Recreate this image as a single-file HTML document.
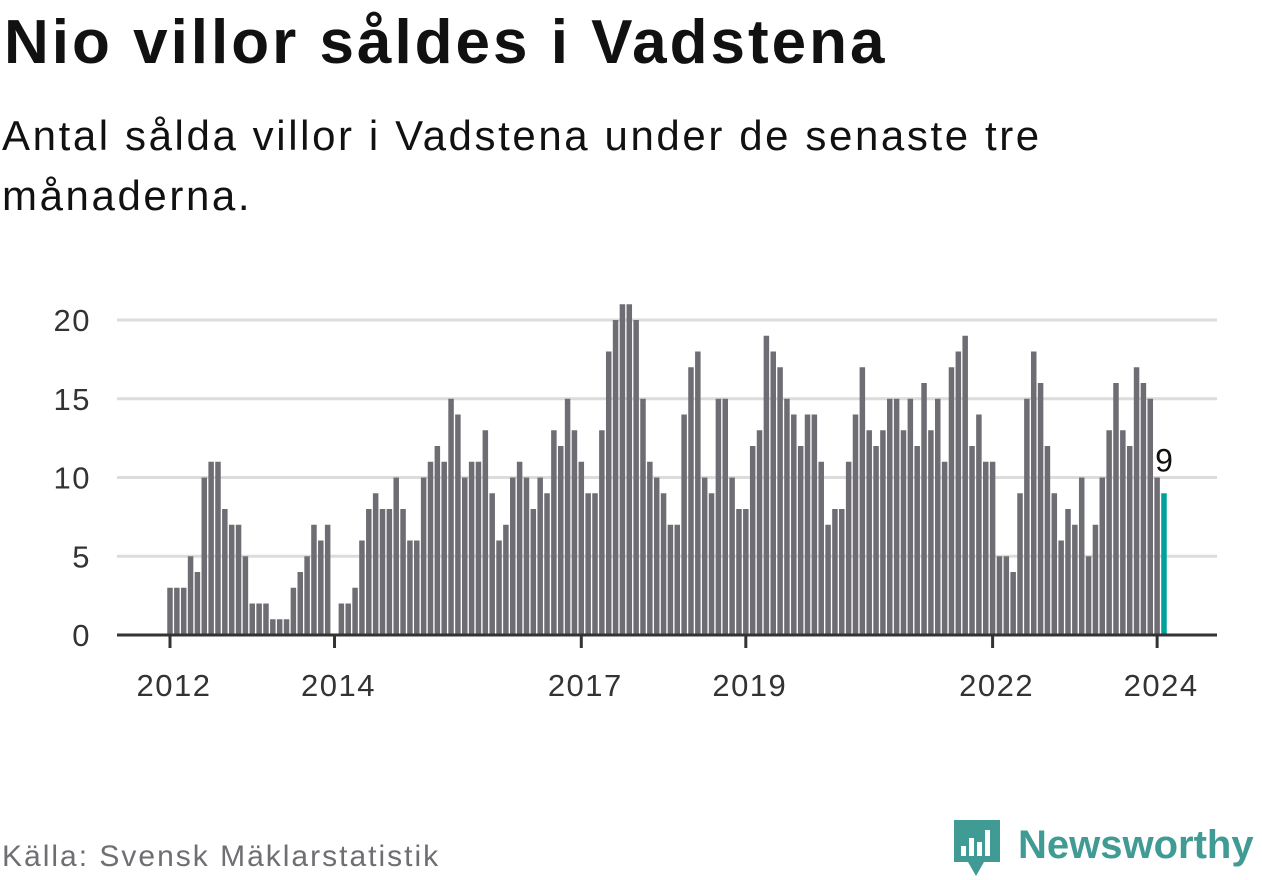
<!DOCTYPE html>
<html><head><meta charset="utf-8"><style>
body{margin:0;width:1262px;height:879px;background:#fff;overflow:hidden;font-family:"Liberation Sans",sans-serif;position:relative}
#title{position:absolute;left:4px;top:12px;font-size:62px;line-height:62px;letter-spacing:3px;font-weight:bold;color:#111;margin:0;white-space:nowrap}
#sub{position:absolute;left:2px;top:106px;font-size:42px;letter-spacing:2.6px;color:#111;line-height:60px;width:1080px;margin:0}
#src{position:absolute;left:2px;top:840px;font-size:30px;letter-spacing:2px;color:#6e6e73}
#logo{position:absolute;left:952px;top:818px}
</style></head><body>
<h1 id="title">Nio villor såldes i Vadstena</h1>
<p id="sub">Antal sålda villor i Vadstena under de senaste tre månaderna.</p>
<svg id="chart" width="1262" height="879" style="position:absolute;left:0;top:0"></svg>
<div id="src">Källa: Svensk Mäklarstatistik</div>
<svg id="logo" width="310" height="62">
<path d="M2 2h46v42h-16l-8 14-8-14H2z" fill="#3f9b93"/>
<rect x="9" y="28" width="5" height="10" fill="#fff"/><rect x="17" y="20" width="5" height="18" fill="#fff"/><rect x="25" y="24" width="5" height="14" fill="#fff"/><rect x="33" y="12" width="5" height="26" fill="#fff"/>
<text x="66" y="40" font-size="40" font-weight="bold" fill="#3f9b93" font-family="Liberation Sans, sans-serif">Newsworthy</text>
</svg>
<script>
const values = [3,3,3,5,4,10,11,11,8,7,7,5,
2,2,2,1,1,1,3,4,5,7,6,7,
0,2,2,3,6,8,9,8,8,10,8,6,
6,10,11,12,11,15,14,10,11,11,13,9,
6,7,10,11,10,8,10,9,13,12,15,13,
11,9,9,13,18,20,21,21,20,15,11,10,
9,7,7,14,17,18,10,9,15,15,10,8,
8,12,13,19,18,17,15,14,12,14,14,11,
7,8,8,11,14,17,13,12,13,15,15,13,
15,12,16,13,15,11,17,18,19,12,14,11,
11,5,5,4,9,15,18,16,12,9,6,8,
7,10,5,7,10,13,16,13,12,17,16,15,
10,9];
const yTicks = [0,5,10,15,20];
const xTickIdx = [0,24,60,84,120,144];
const xTickLabels = ["2012","2014","2017","2019","2022","2024"];
const NS="http://www.w3.org/2000/svg";
const svg=document.getElementById('chart');
const y0=635, yPer=15.75, x0=170, step=6.855, bw=5.5;
const Y=v=>y0-v*yPer, X=i=>x0+i*step;
function mk(t,a){const e=document.createElementNS(NS,t);for(const k in a)e.setAttribute(k,a[k]);svg.appendChild(e);return e;}
yTicks.forEach(t=>{
  if(t>0){const g=mk('line',{x1:117,x2:1217,y1:Y(t),y2:Y(t),stroke:'#dcdcdc','stroke-width':3});
  
  }
  const l=mk('text',{x:91,y:Y(t)+11,'text-anchor':'end','font-size':31,'letter-spacing':1.5,fill:'#333','font-family':'Liberation Sans, sans-serif'});
  l.textContent=t;
  
  
});
values.forEach((v,i)=>{
  const last=i===values.length-1;
  const r=mk('rect',{x:X(i)-bw/2,y:Y(v),width:bw,height:v*yPer,fill:last?'#00a19a':'#6e6d73'});
  
  
});
const ax=mk('line',{x1:117,x2:1217,y1:y0,y2:y0,stroke:'#333','stroke-width':3});


xTickIdx.forEach((n,k)=>{
  const tk=mk('line',{x1:X(n),x2:X(n),y1:y0,y2:y0+13,stroke:'#333','stroke-width':3});
  
  
  const l=mk('text',{x:X(n)+4,y:696,'text-anchor':'middle','font-size':31,'letter-spacing':1.5,fill:'#333','font-family':'Liberation Sans, sans-serif'});
  l.textContent=xTickLabels[k];
  
  
});
const li=values.length-1;
const lab=mk('text',{x:X(li),y:Y(values[li])-22,'text-anchor':'middle','font-size':32,fill:'#111',stroke:'#fff','stroke-width':6,'paint-order':'stroke','font-family':'Liberation Sans, sans-serif'});
lab.textContent=values[li];


</script>
</body></html>
